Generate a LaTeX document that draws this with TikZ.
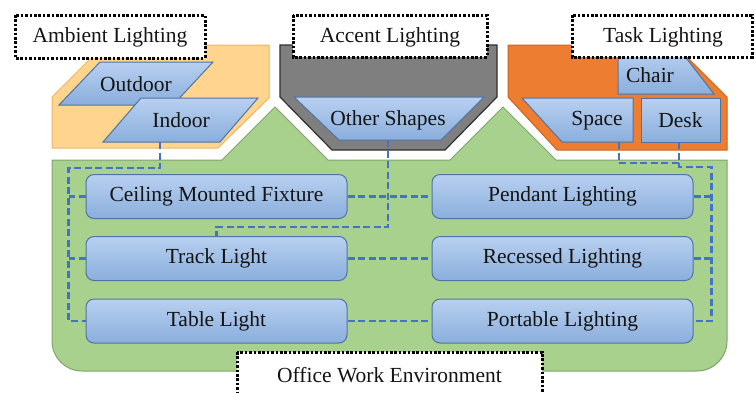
\documentclass[tikz,border=0pt]{standalone}
\usepackage{fontspec}
\setmainfont{Liberation Serif}
\definecolor{oLight}{HTML}{FFD48F}
\definecolor{oLightLine}{HTML}{EFB562}
\definecolor{grayFill}{HTML}{7F7F7F}
\definecolor{grayLine}{HTML}{303030}
\definecolor{oDark}{HTML}{ED7D31}
\definecolor{oDarkLine}{HTML}{C9651F}
\definecolor{gFill}{HTML}{A9D18E}
\definecolor{gLine}{HTML}{7FA36A}
\definecolor{bTop}{HTML}{B8D0F0}
\definecolor{bBot}{HTML}{8AAEDC}
\definecolor{bLine}{HTML}{4E74A6}
\definecolor{cLine}{HTML}{4472C4}
\begin{document}
\begin{tikzpicture}[x=1pt,y=-1pt,
  txt/.style={font=\fontsize{21.5}{24}\selectfont, text=black!92, inner sep=0pt},
  bluefill/.style={top color=bTop, bottom color=bBot, draw=bLine, line width=1pt},
  lbox/.style={bluefill, rounded corners=8pt, minimum width=261pt, minimum height=44pt, txt},
  tagbox/.style={draw=black, fill=white, line width=3pt, dash pattern=on 2.6pt off 1.8pt},
  conn/.style={draw=cLine, line width=2.5pt, dash pattern=on 7pt off 3.5pt},
]
\useasboundingbox (0,0) rectangle (755,392);

% panels
\path[fill=oLight, draw=oLightLine, line width=1pt]
  (52,97) -- (104,45) -- (269,45) -- (269,98) -- (218,148) -- (52,148) -- cycle;
\path[fill=grayFill, draw=grayLine, line width=1.2pt]
  (280,45) -- (497,45) -- (497,97) -- (445,150) -- (332,150) -- (280,97) -- cycle;
\path[fill=oDark, draw=oDarkLine, line width=1pt]
  (508,45) -- (675,45) -- (727,97) -- (727,150) -- (557,150) -- (508,97) -- cycle;
\path[fill=gFill, draw=gLine, line width=1pt]
  (52,160) -- (222,160) -- (275,107) -- (328,160) -- (450,160) -- (503,107) -- (556,160)
  -- (727,160) -- (727,341) .. controls (727,357.6) and (713.6,371) .. (697,371)
  -- (82,371) .. controls (65.4,371) and (52,357.6) .. (52,341) -- cycle;

% blue shapes in panels
\path[bluefill] (59,105) -- (173,105) -- (213,62) -- (100,62) -- cycle;
\node[txt] (outdoor) at (136,84) {Outdoor};
\path[bluefill] (103,142) -- (220,142) -- (258,98) -- (141,98) -- cycle;
\node[txt] (indoor) at (181,120) {Indoor};
\coordinate (indoorS) at (160,142);

\path[bluefill] (294,97) -- (484,97) -- (441,140) -- (339,140) -- cycle;
\node[txt] (other) at (388,120) {Other Shapes};
\coordinate (otherS) at (388,140);

\path[bluefill] (618,50) -- (680,50) -- (714,94) -- (618,94) -- cycle;
\node[txt] (chair) at (650,75) {Chair};
\path[bluefill] (522,98) -- (633,98) -- (633,142) -- (562,142) -- cycle;
\node[txt] (space) at (597,121) {Space};
\coordinate (spaceS) at (619,142);
\node[bluefill, txt, minimum width=79pt, minimum height=44pt] (desk) at (680.5,120) {Desk};
\coordinate (deskS) at (679,142);

% lighting types
\node[lbox] (ceiling)  at (216.5,196.5) {Ceiling Mounted Fixture};
\node[lbox] (track)    at (216.5,258.5) {Track Light};
\node[lbox] (table)    at (216.5,321)   {Table Light};
\node[lbox] (pendant)  at (562.5,196.5) {Pendant Lighting};
\node[lbox] (recessed) at (562.5,258.5) {Recessed Lighting};
\node[lbox] (portable) at (562.5,321)   {Portable Lighting};

% connectors
\draw[conn] (indoorS) -- ++(0,26) -| ([xshift=-17pt]table.west) -- (table.west);
\draw[conn] (ceiling.west) -- ++(-17pt,0);
\draw[conn] (track.west) -- ++(-17pt,0);
\draw[conn] (otherS) |- ([yshift=9pt]track.north) -- (track.north);
\draw[conn] (ceiling.east) -- (pendant.west);
\draw[conn] (track.east) -- (recessed.west);
\draw[conn] (table.east) -- (portable.west);
\coordinate (jR) at (679,163);
\draw[conn] (spaceS) |- (jR);
\draw[conn] (deskS) -- ++(0,25) -| ([xshift=18pt]portable.east) -- (portable.east);
\draw[conn] (pendant.east) -- ++(18pt,0);
\draw[conn] (recessed.east) -- ++(18pt,0);

% label tags
\draw[tagbox] (15,15) rectangle (205,58);
\node[txt] (ambient) at (110,37) {Ambient Lighting};
\draw[tagbox] (293,15) rectangle (487,57);
\node[txt] (accent) at (390,37) {Accent Lighting};
\draw[tagbox] (572,15) rectangle (752,57);
\node[txt] (task) at (663,37) {Task Lighting};
\draw[tagbox] (237,352) rectangle (542,402);
\node[txt] (office) at (389.5,375) {Office Work Environment};
\end{tikzpicture}
\end{document}
